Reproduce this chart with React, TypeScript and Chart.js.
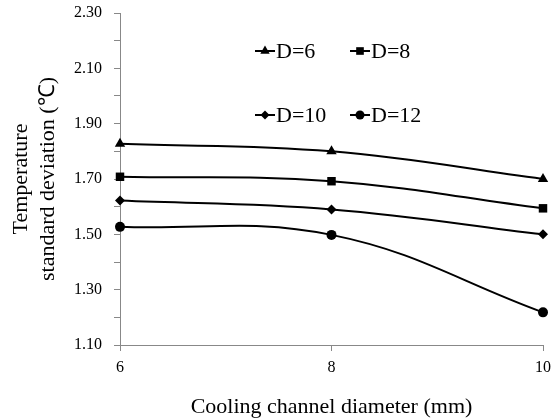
import React, { useEffect, useRef } from "react";
import { Chart, registerables } from "chart.js";
import { drawPoint } from "chart.js/helpers";

Chart.register(...registerables);

const xValues = [6, 8, 10];
const labels = ["D=6", "D=8", "D=10", "D=12"];
const d6 = [1.827, 1.8, 1.7];
const d8 = [1.708, 1.692, 1.594];
const d10 = [1.622, 1.59, 1.5];
const d12 = [1.527, 1.498, 1.218];
const markers = ["triangle", "rect", "rectRot", "circle"];
const markerRadius = [6, 6, 5, 5];

const SERIF = "'Liberation Serif', 'Times New Roman', serif";

const legendPlugin = {
  id: "innerLegend",
  afterDraw(chart: any) {
    const ctx = chart.ctx;
    const positions = [
      [255, 51],
      [350, 51],
      [255, 115],
      [350, 115],
    ];
    ctx.save();
    chart.data.datasets.forEach((ds: any, i: number) => {
      const [x, y] = positions[i];
      ctx.strokeStyle = "#000";
      ctx.lineWidth = 2;
      ctx.beginPath();
      ctx.moveTo(x, y);
      ctx.lineTo(x + 20, y);
      ctx.stroke();
      ctx.fillStyle = "#000";
      drawPoint(
        ctx,
        { pointStyle: ds.pointStyle, radius: ds.pointRadius * 0.9, borderWidth: 0, rotation: 0 } as any,
        x + 10,
        y
      );
      ctx.font = "22px " + SERIF;
      ctx.textBaseline = "middle";
      ctx.textAlign = "left";
      ctx.fillStyle = "#000";
      ctx.fillText(ds.label, x + 21, y + 1);
    });
    ctx.restore();
  },
};

export default function App() {
  const ref = useRef<HTMLCanvasElement>(null);
  useEffect(() => {
    const series = [d6, d8, d10, d12];
    const chart = new Chart(ref.current!, {
      type: "line",
      data: {
        datasets: series.map((s, i) => ({
          label: labels[i],
          data: s.map((v, j) => ({ x: xValues[j], y: v })),
          borderColor: "#000",
          backgroundColor: "#000",
          borderWidth: 2,
          pointStyle: markers[i] as any,
          pointRadius: markerRadius[i],
          pointBorderWidth: 0,
          tension: 0.4,
          fill: false,
          clip: false as any,
        })),
      },
      plugins: [legendPlugin],
      options: {
        animation: false,
        responsive: false,
        maintainAspectRatio: false,
        layout: { padding: { top: 0, right: 14, left: 0, bottom: 0 } },
        plugins: { legend: { display: false }, tooltip: { enabled: false } },
        scales: {
          x: {
            type: "linear",
            min: 6,
            max: 10,
            border: { display: true, color: "#888", width: 1 },
            grid: { drawOnChartArea: false, drawTicks: true, tickLength: 6, color: "#888" },
            ticks: { stepSize: 2, color: "#000", font: { family: SERIF, size: 16 }, padding: 7 },
            title: {
              display: true,
              text: "Cooling channel diameter (mm)",
              color: "#000",
              font: { family: SERIF, size: 22 },
              padding: { top: 8, bottom: 0 },
            },
            afterFit: (s: any) => {
              s.height = 75;
            },
          },
          y: {
            min: 1.1,
            max: 2.3,
            border: { display: true, color: "#888", width: 1 },
            grid: { drawOnChartArea: false, drawTicks: true, tickLength: 6, color: "#888" },
            ticks: {
              stepSize: 0.1,
              color: "#000",
              font: { family: SERIF, size: 16 },
              padding: 12,
              callback: (v: any) => {
                const n = Math.round(Number(v) * 10);
                return n % 2 === 1 ? (n / 10).toFixed(2) : "";
              },
            },
            title: {
              display: true,
              text: ["Temperature", "standard deviation (℃)"],
              color: "#000",
              font: { family: SERIF, size: 22, lineHeight: 1.22 },
              padding: { top: 8, bottom: 10 },
            },
            afterFit: (s: any) => {
              s.width = 120;
              s.paddingTop = 13;
              s.paddingBottom = 10;
            },
          },
        },
      },
    });
    return () => chart.destroy();
  }, []);
  return (
    <div style={{ position: "fixed", left: 0, top: 0, width: 558, height: 420, background: "#fff" }}>
      <canvas ref={ref} width={558} height={420} />
    </div>
  );
}
